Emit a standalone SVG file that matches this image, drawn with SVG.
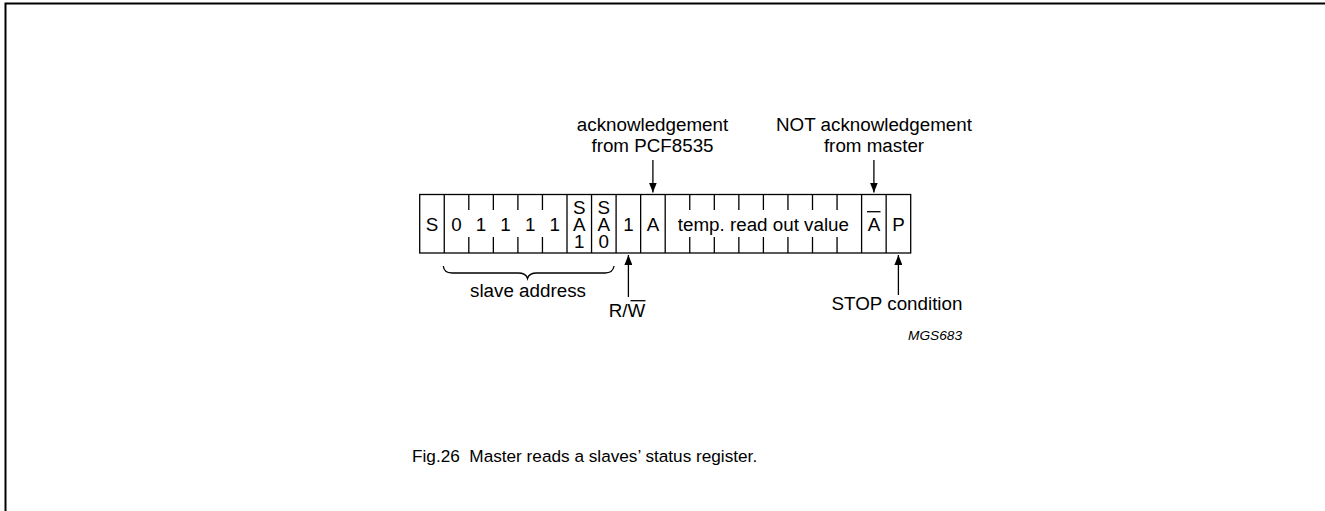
<svg xmlns="http://www.w3.org/2000/svg" width="1325" height="511" viewBox="0 0 1325 511">
<defs>
<style>
.t{font-family:"Liberation Sans",Arial,sans-serif;font-size:18.8px;fill:#000;text-anchor:middle}
.ln{stroke:#000;stroke-width:1.3;fill:none}
.cap{font-family:"Liberation Sans",Arial,sans-serif;font-size:17.2px;fill:#000}
.id{font-family:"Liberation Sans",Arial,sans-serif;font-size:13.7px;font-style:italic;fill:#000}
</style>
<marker id="ah" viewBox="0 0 10 8" refX="10" refY="4" markerWidth="10" markerHeight="8" markerUnits="userSpaceOnUse" orient="auto">
<path d="M0,0 L10,4 L0,8 Z" fill="#000"/>
</marker>
</defs>
<rect width="1325" height="511" fill="#fff"/>
<path d="M5.5,511 V3.5 H1325" stroke="#000" stroke-width="2" fill="none"/>

<g id="frame">
<rect class="ln" x="419.7" y="194.5" width="491" height="58.5"/>
<path class="ln" d="M444.25,194.5V253 M567,194.5V253 M591.55,194.5V253 M616.1,194.5V253 M640.65,194.5V253 M665.2,194.5V253 M861.6,194.5V253 M886.15,194.5V253"/>
<path class="ln" d="M468.8,194.5V210 M468.8,237V253 M493.35,194.5V210 M493.35,237V253 M517.9,194.5V210 M517.9,237V253 M542.45,194.5V210 M542.45,237V253
M689.75,194.5V210 M689.75,237V253 M714.3,194.5V210 M714.3,237V253 M738.85,194.5V210 M738.85,237V253 M763.4,194.5V210 M763.4,237V253 M787.95,194.5V210 M787.95,237V253 M812.5,194.5V210 M812.5,237V253 M837.05,194.5V210 M837.05,237V253"/>
</g>

<g id="cells">
<text class="t" x="432" y="231">S</text>
<text class="t" x="456.5" y="231">0</text>
<text class="t" x="481" y="231">1</text>
<text class="t" x="505.6" y="231">1</text>
<text class="t" x="530.2" y="231">1</text>
<text class="t" x="554.7" y="231">1</text>
<text class="t" x="579.3" y="214.3">S<tspan x="579.3" y="231">A</tspan><tspan x="579.3" y="247.7">1</tspan></text>
<text class="t" x="603.8" y="214.3">S<tspan x="603.8" y="231">A</tspan><tspan x="603.8" y="247.7">0</tspan></text>
<text class="t" x="628.4" y="231">1</text>
<text class="t" x="652.9" y="231">A</text>
<text class="t" x="763.4" y="231">temp. read out value</text>
<text class="t" x="873.9" y="231">A</text>
<path class="ln" d="M867,211.7H880.5"/>
<text class="t" x="898.4" y="231">P</text>
</g>

<g id="ack">
<text class="t" x="652.5" y="130.7">acknowledgement</text>
<text class="t" x="652.5" y="151.7">from PCF8535</text>
</g>
<g id="nack">
<text class="t" x="874" y="130.7">NOT acknowledgement</text>
<text class="t" x="874" y="151.7">from master</text>
</g>
<g id="rw">
<text class="t" x="627" y="316.7">R/W</text>
<path class="ln" d="M630.5,300.7H645.5"/>
</g>
<g id="stop">
<text class="t" x="897" y="310">STOP condition</text>
</g>
<g id="slave">
<path class="ln" d="M443.3,266 Q444,273 452,273 H518 Q526,273 527.5,278.5 Q529,273 537,273 H605 Q613,273 614,266"/>
<text class="t" x="528" y="297.3">slave address</text>
</g>

<g id="connectors">
<path class="ln" d="M652.9,160V192.5" marker-end="url(#ah)"/>
<path class="ln" d="M873.9,160V192.5" marker-end="url(#ah)"/>
<path class="ln" d="M628.4,297V255" marker-end="url(#ah)"/>
<path class="ln" d="M898.4,295V255" marker-end="url(#ah)"/>
</g>

<text class="id" x="908" y="340">MGS683</text>
<text class="cap" x="412" y="462.3" xml:space="preserve">Fig.26  Master reads a slaves’ status register.</text>
</svg>
